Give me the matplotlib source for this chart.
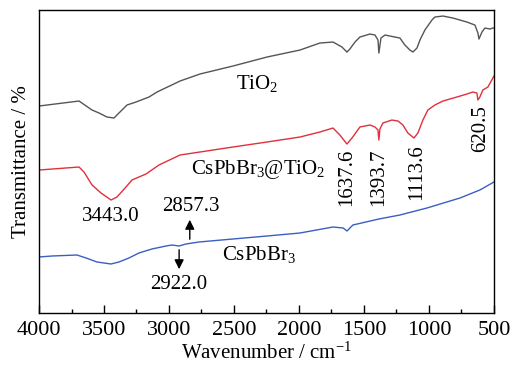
import matplotlib
matplotlib.use('Agg')
import matplotlib.pyplot as plt
from matplotlib.ticker import MultipleLocator

plt.rcParams['font.family'] = ['Liberation Serif', 'DejaVu Serif']
plt.rcParams['mathtext.fontset'] = 'custom'
plt.rcParams['mathtext.rm'] = 'Liberation Serif'
plt.rcParams['mathtext.it'] = 'Liberation Serif:italic'

# TiO2 spectrum (wavenumber, offset transmittance a.u.)
tio2_wn = [4000, 3692, 3592, 3538, 3477, 3423, 3385, 3323, 3254, 3154, 3092, 2915,
           2762, 2508, 2246, 1992, 1839, 1738, 1669, 1631, 1608, 1569, 1531, 1454,
           1415, 1392, 1385, 1369, 1338, 1262, 1223, 1185, 1146, 1123, 1092, 1069,
           1031, 977, 954, 892, 815, 708, 646, 623, 615, 592, 569, 531, 508, 500]
tio2_t = [207, 212, 203, 200, 196, 195, 200, 208, 211, 216, 221, 232,
          239, 247, 256, 263, 270, 271, 266, 261, 264, 271, 276, 279,
          278, 273, 260, 275, 278, 276, 275, 268, 263, 261, 265, 273,
          283, 293, 296, 297, 295, 291, 288, 280, 274, 281, 285, 284, 285, 285]

# CsPbBr3@TiO2 spectrum
comp_wn = [4000, 3692, 3654, 3592, 3523, 3446, 3400, 3331, 3285, 3177, 3077, 2915,
           2762, 2508, 2246, 1992, 1839, 1738, 1685, 1631, 1592, 1531, 1454, 1415,
           1392, 1385, 1377, 1354, 1285, 1238, 1200, 1162, 1115, 1085, 1046, 1008,
           954, 892, 785, 708, 662, 631, 623, 608, 585, 546, 508, 500]
comp_t = [143, 146, 141, 128, 120, 113, 116, 126, 133, 139, 148, 158,
          161, 166, 171, 176, 181, 185, 178, 169, 175, 186, 188, 186,
          183, 173, 184, 190, 193, 192, 188, 180, 175, 180, 193, 203,
          208, 212, 216, 219, 221, 220, 213, 216, 223, 226, 235, 237]

# CsPbBr3 spectrum
cpb_wn = [4000, 3900, 3708, 3638, 3554, 3446, 3385, 3308, 3231, 3131, 3023, 2977,
          2923, 2869, 2769, 2508, 2246, 1992, 1738, 1660, 1630, 1585, 1385, 1223,
          1015, 761, 608, 500]
cpb_t = [56, 57, 58, 55, 51, 49, 51, 55, 60, 64, 67, 68,
         67, 69, 71, 74, 77, 80, 86, 85, 82, 88, 94, 98,
         105, 115, 123, 131]

peak_labels = ['1637.6', '1393.7', '1113.6', '620.5']

fig = plt.figure(figsize=(5.14, 3.65), dpi=100)
ax = fig.add_axes([0.0759, 0.1425, 0.885, 0.830])

ax.plot(tio2_wn, tio2_t, color='#555555', lw=1.0)
ax.plot(comp_wn, comp_t, color='#e0303c', lw=1.0)
ax.plot(cpb_wn, cpb_t, color='#3a5fc0', lw=1.0)

fs = 15
ax.text(2323, 230, 'TiO$_2$', fontsize=fs, ha='center', va='center')
ax.text(2315, 144, 'CsPbBr$_3$@TiO$_2$', fontsize=fs, ha='center', va='center')
ax.text(2308, 58, 'CsPbBr$_3$', fontsize=fs, ha='center', va='center')
ax.text(3446, 97, '3443.0', fontsize=fs, ha='center', va='center')
ax.text(2831, 107, '2857.3', fontsize=fs, ha='center', va='center')
ax.text(2923, 28, '2922.0', fontsize=fs, ha='center', va='center')

for lab, x, y in zip(peak_labels, [1631, 1385, 1092, 600], [136, 136, 141, 184]):
    ax.text(x, y, lab, fontsize=fs, ha='center', va='center', rotation=90)

ax.annotate('', xy=(2840, 96), xytext=(2840, 71),
            arrowprops=dict(arrowstyle='-|>', color='black', lw=1, mutation_scale=14))
ax.annotate('', xy=(2922, 41), xytext=(2922, 66),
            arrowprops=dict(arrowstyle='-|>', color='black', lw=1, mutation_scale=14))

ax.set_xlim(4000, 500)
ax.set_ylim(0, 303)
ax.xaxis.set_major_locator(MultipleLocator(500))
ax.xaxis.set_minor_locator(MultipleLocator(250))
ax.tick_params(axis='x', which='major', direction='in', length=5.5, width=1, labelsize=16, pad=6)
ax.tick_params(axis='x', which='minor', direction='in', length=3, width=1)
ax.set_yticks([])
for sp in ax.spines.values():
    sp.set_linewidth(1)

ax.set_xlabel('Wavenumber / cm$^{-1}$', fontsize=fs, labelpad=2)
ax.set_ylabel('Transmittance / %', fontsize=fs, labelpad=6)

fig.savefig('out.png', dpi=100)
